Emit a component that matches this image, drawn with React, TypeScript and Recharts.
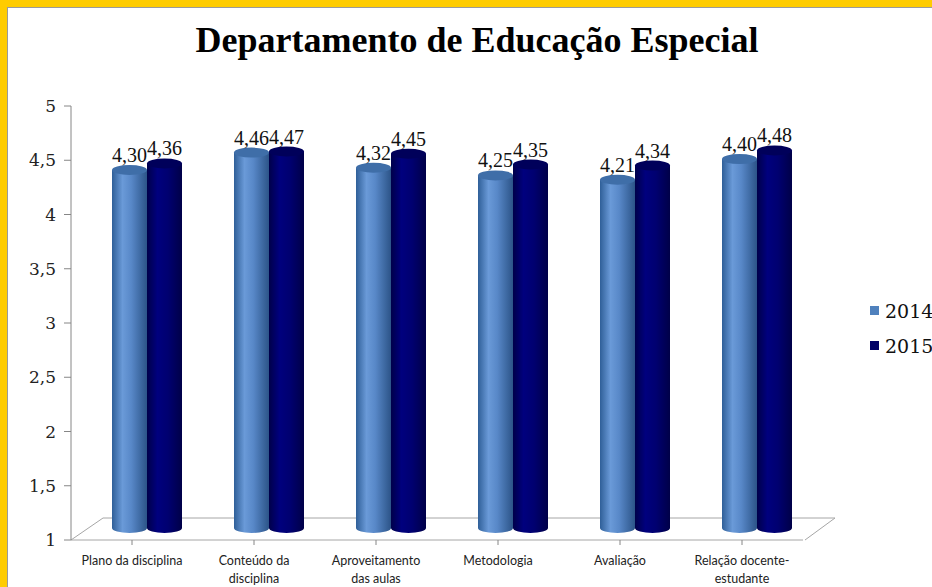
import { Bar, BarChart, XAxis, YAxis, Legend, LabelList } from 'recharts';

const categoryLines = [
  ['Plano da disciplina'],
  ['Conteúdo da', 'disciplina'],
  ['Aproveitamento', 'das aulas'],
  ['Metodologia'],
  ['Avaliação'],
  ['Relação docente-', 'estudante'],
];
const categories = categoryLines.map((l) => l.join(' '));
const values2014 = [4.3, 4.46, 4.32, 4.25, 4.21, 4.4];
const values2015 = [4.36, 4.47, 4.45, 4.35, 4.34, 4.48];
const yTicks = [1, 1.5, 2, 2.5, 3, 3.5, 4, 4.5, 5];

const data = categories.map((name, i) => ({
  name,
  y2014: values2014[i],
  y2015: values2015[i],
}));

// 3D look: bars sit a bit behind the front plane
const DX = 15;
const DY = -12;
const RY = 5;

const fmt = (v: number) => v.toFixed(2).replace('.', ',');
const fmtTick = (v: number) => String(v).replace('.', ',');

function Cylinder(props: any) {
  const { x, y, width, height, gradId, topFill } = props;
  const left = x + DX;
  const rx = width / 2;
  const top = y + DY;
  const bottom = y + height + DY;
  return (
    <g>
      <path
        d={`M${left},${top} L${left},${bottom} A${rx},${RY} 0 0 0 ${left + width},${bottom} L${left + width},${top} Z`}
        fill={`url(#${gradId})`}
      />
      <ellipse cx={left + rx} cy={top} rx={rx} ry={RY} fill={topFill} />
    </g>
  );
}

function ValueLabel(props: any) {
  const { x, y, width, value } = props;
  return (
    <text
      x={x + DX + width / 2}
      y={y + DY - RY - 3}
      textAnchor="middle"
      fontFamily="Liberation Serif"
      fontSize={20}
      fill="#111"
    >
      {fmt(value)}
    </text>
  );
}

function CategoryTick(props: any) {
  const { x, y, payload, index } = props;
  const lines = categoryLines[index] ?? [payload.value];
  return (
    <g>
      {lines.map((t: string, i: number) => (
        <text
          key={i}
          x={x}
          y={y + 18 + i * 18}
          textAnchor="middle"
          fontFamily="Lato"
          fontSize={12.5}
          fill="#222"
        >
          {t}
        </text>
      ))}
    </g>
  );
}

function LegendBox(props: any) {
  const items = props.payload ?? [];
  return (
    <div>
      {items.map((it: any, i: number) => (
        <div key={i} style={{ display: 'flex', alignItems: 'center', height: 35 }}>
          <span style={{ width: 9, height: 9, background: it.color, marginRight: 6, display: 'inline-block' }} />
          <span style={{ fontFamily: 'DejaVu Serif', fontSize: 19, color: '#111' }}>{it.value}</span>
        </div>
      ))}
    </div>
  );
}

export default function App() {
  return (
    <div style={{ position: 'fixed', left: 0, top: 0, width: 932, height: 587, background: '#ffcc00', overflow: 'hidden' }}>
      <div
        style={{
          position: 'absolute',
          left: 7,
          top: 7,
          width: 940,
          height: 600,
          background: '#fff',
          borderTop: '1px solid #9a9a9a',
          borderLeft: '1px solid #9a9a9a',
        }}
      />
      <svg width={932} height={587} style={{ position: 'absolute', left: 0, top: 0 }}>
        <text
          x={477}
          y={52}
          textAnchor="middle"
          fontFamily="Liberation Serif"
          fontWeight="bold"
          fontSize={36}
          fill="#000"
        >
          Departamento de Educação Especial
        </text>
        <polyline points="71,540 103,518 835,518 805,540" fill="none" stroke="#a6a6a6" strokeWidth={1} />
      </svg>
      <div style={{ position: 'absolute', left: 0, top: 0 }}>
        <BarChart
          width={932}
          height={587}
          data={data}
          margin={{ top: 106, right: 129, bottom: 7, left: 11 }}
          barCategoryGap={26}
          barGap={0}
        >
          <defs>
            <linearGradient id="g14" x1="0" y1="0" x2="1" y2="0">
              <stop offset="0%" stopColor="#2f5f98" />
              <stop offset="30%" stopColor="#6a9ad8" />
              <stop offset="55%" stopColor="#5888c8" />
              <stop offset="100%" stopColor="#2c5488" />
            </linearGradient>
            <linearGradient id="g15" x1="0" y1="0" x2="1" y2="0">
              <stop offset="0%" stopColor="#00004a" />
              <stop offset="30%" stopColor="#00007e" />
              <stop offset="60%" stopColor="#000070" />
              <stop offset="100%" stopColor="#000048" />
            </linearGradient>
          </defs>
          <XAxis
            dataKey="name"
            interval={0}
            height={40}
            axisLine={{ stroke: '#a6a6a6' }}
            tickLine={{ stroke: '#868686' }}
            tickSize={5}
            tick={<CategoryTick />}
          />
          <YAxis
            domain={[1, 5]}
            ticks={yTicks}
            width={60}
            tickFormatter={fmtTick}
            axisLine={{ stroke: '#868686' }}
            tickLine={{ stroke: '#868686' }}
            tickSize={7}
            tick={{ fontFamily: 'DejaVu Serif', fontSize: 17, fill: '#222', dx: -6 }}
            allowDataOverflow
          />
          <Legend
            layout="vertical"
            align="center"
            verticalAlign="middle"
            wrapperStyle={{ left: 870, top: 293, width: 70 }}
            content={<LegendBox />}
          />
          <Bar
            dataKey="y2014"
            name="2014"
            fill="#4f81bd"
            isAnimationActive={false}
            shape={(p: any) => <Cylinder {...p} gradId="g14" topFill="#3f6ea8" />}
          >
            <LabelList dataKey="y2014" content={<ValueLabel />} />
          </Bar>
          <Bar
            dataKey="y2015"
            name="2015"
            fill="#000066"
            isAnimationActive={false}
            shape={(p: any) => <Cylinder {...p} gradId="g15" topFill="#00005a" />}
          >
            <LabelList dataKey="y2015" content={<ValueLabel />} />
          </Bar>
        </BarChart>
      </div>
    </div>
  );
}
